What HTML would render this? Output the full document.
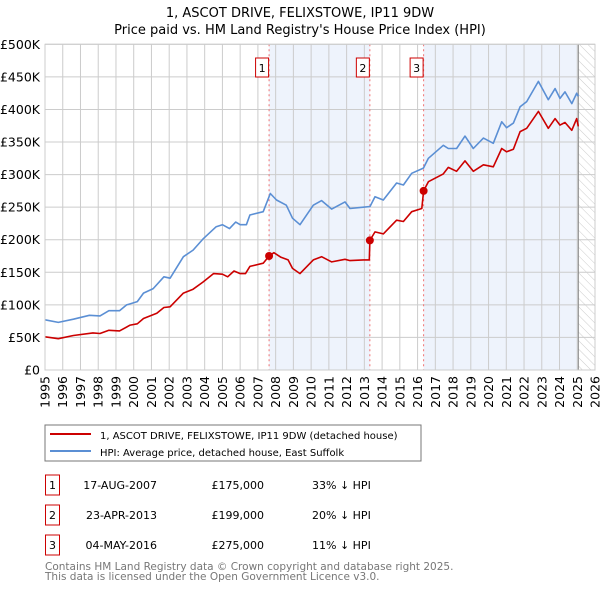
<!DOCTYPE html>
<html><head><meta charset="utf-8"><style>
body{margin:0;background:#fff;font-family:"DejaVu Sans","Liberation Sans",sans-serif}
svg text{font-family:"DejaVu Sans","Liberation Sans",sans-serif}
</style></head><body>
<svg id="c" width="600" height="590" xmlns="http://www.w3.org/2000/svg">
<defs><pattern id="hatch" width="6" height="6" patternUnits="userSpaceOnUse" patternTransform="rotate(-45)"><line x1="0" y1="0" x2="0" y2="6" stroke="#ccc" stroke-width="1"/></pattern></defs>
<text x="300" y="17" text-anchor="middle" font-size="13">1, ASCOT DRIVE, FELIXSTOWE, IP11 9DW</text>
<text x="300" y="34" text-anchor="middle" font-size="13">Price paid vs. HM Land Registry's House Price Index (HPI)</text>
<g id="plot"></g>
<rect x="45" y="425" width="376" height="36" fill="#fff" stroke="#777"/>
<line x1="50" y1="434" x2="91" y2="434" stroke="#cc0000" stroke-width="2"/>
<text x="100" y="439" font-size="10">1, ASCOT DRIVE, FELIXSTOWE, IP11 9DW (detached house)</text>
<line x1="50" y1="451" x2="91" y2="451" stroke="#5b8fd4" stroke-width="2"/>
<text x="100" y="456" font-size="10">HPI: Average price, detached house, East Suffolk</text>
<g id="table"></g>
<text x="45" y="570" font-size="10.5" fill="#777">Contains HM Land Registry data © Crown copyright and database right 2025.</text>
<text x="45" y="580" font-size="10.5" fill="#777">This data is licensed under the Open Government Licence v3.0.</text>
</svg>
<script>
const hpiYears=[1995.0,1995.75,1996.6,1997.5,1998.1,1998.6,1999.2,1999.6,2000.2,2000.55,2001.1,2001.7,2002.05,2002.8,2003.35,2003.9,2004.65,2005.0,2005.4,2005.75,2006.0,2006.35,2006.55,2007.3,2007.7,2008.05,2008.6,2008.95,2009.37,2010.12,2010.59,2011.16,2011.91,2012.19,2012.94,2013.32,2013.6,2014.07,2014.82,2015.2,2015.67,2016.33,2016.61,2017.45,2017.73,2018.2,2018.67,2019.14,2019.71,2020.27,2020.74,2021.02,2021.4,2021.78,2022.15,2022.81,2023.37,2023.75,2024.03,2024.31,2024.69,2024.97,2025.06];
const hpiValues=[77,73,78,84,83,91,91,100,105,118,125,143,141,174,184,201,220,223,217,227,223,223,238,243,271,261,253,233,223,253,260,247,258,248,250,251,266,261,287,284,302,310,325,345,340,340,359,340,356,348,381,372,379,404,412,443,415,432,417,427,409,425,420];
const propYears=[1995.0,1995.75,1996.6,1997.7,1998.1,1998.6,1999.2,1999.8,2000.2,2000.55,2001.3,2001.7,2002.05,2002.8,2003.35,2003.9,2004.5,2005.0,2005.3,2005.65,2006.0,2006.3,2006.55,2007.3,2007.63,2007.9,2008.3,2008.7,2008.95,2009.37,2010.12,2010.59,2011.16,2011.91,2012.19,2012.94,2013.28,2013.31,2013.6,2014.07,2014.82,2015.2,2015.67,2016.24,2016.34,2016.61,2017.45,2017.73,2018.2,2018.67,2019.14,2019.71,2020.27,2020.74,2021.02,2021.4,2021.78,2022.15,2022.81,2023.37,2023.75,2024.03,2024.31,2024.69,2024.97,2025.06];
const propValues=[51,48,53,57,56,61,60,69,71,79,87,96,97,118,124,135,148,147,143,152,148,148,159,164,175,180,173,169,156,148,169,174,166,170,168,169,169,199,212,209,230,228,243,248,275,289,301,311,305,321,305,315,312,340,335,339,366,371,397,371,386,376,380,368,386,374];
const saleYears=[2007.63,2013.31,2016.34];
const salePrices=[175000,199000,275000];
const saleDates=["17-AUG-2007","23-APR-2013","04-MAY-2016"];
const salePct=["33% ↓ HPI","20% ↓ HPI","11% ↓ HPI"];
const yTicks=[0,50,100,150,200,250,300,350,400,450,500];
const yLabels=["£0","£50K","£100K","£150K","£200K","£250K","£300K","£350K","£400K","£450K","£500K"];
const xTicks=[1995,1996,1997,1998,1999,2000,2001,2002,2003,2004,2005,2006,2007,2008,2009,2010,2011,2012,2013,2014,2015,2016,2017,2018,2019,2020,2021,2022,2023,2024,2025,2026];
const X0=45,X1=595,Y0=370,Y1=44.3;
const xs=y=>X0+(y-1995)/31*(X1-X0);
const ys=v=>Y0-v/500*(Y0-Y1);
const NS="http://www.w3.org/2000/svg";
const plot=document.getElementById('plot');
function mk(tag,attrs,parent){const e=document.createElementNS(NS,tag);for(const k in attrs)e.setAttribute(k,attrs[k]);(parent||plot).appendChild(e);return e;}
// shading
let r=mk('rect',{x:xs(saleYears[0]),y:Y1,width:xs(saleYears[1])-xs(saleYears[0]),height:Y0-Y1,fill:'#eef3fc'});


r=mk('rect',{x:xs(saleYears[2]),y:Y1,width:xs(2025.06)-xs(saleYears[2]),height:Y0-Y1,fill:'#eef3fc'});


r=mk('rect',{x:xs(2025.06),y:Y1,width:X1-xs(2025.06),height:Y0-Y1,fill:'url(#hatch)'});


// grid
yTicks.forEach((t,i)=>{
 const l=mk('line',{x1:X0,x2:X1,y1:ys(t),y2:ys(t),stroke:'#ccc'});
 
 
 const tx=mk('text',{x:40,y:ys(t)+4.5,'text-anchor':'end','font-size':'12.5'});tx.textContent=yLabels[i];
 
 
});
xTicks.forEach(t=>{
 const l=mk('line',{x1:xs(t),x2:xs(t),y1:Y1,y2:Y0,stroke:'#ccc'});
 
 
 const tx=mk('text',{transform:`translate(${xs(t)+4.5},${Y0+6}) rotate(-90)`,'text-anchor':'end','font-size':'12.5'});tx.textContent=t;
 
 
});
const vl=mk('line',{x1:xs(2025.06),x2:xs(2025.06),y1:Y1,y2:Y0,stroke:'#888'});


// sale markers
saleYears.forEach((s,i)=>{
 const l=mk('line',{x1:xs(s),x2:xs(s),y1:Y1,y2:Y0,stroke:'#f07070','stroke-dasharray':'2,3'});
 
 
 const b=mk('rect',{x:xs(s)-13.5,y:58,width:13,height:19,fill:'#fff',stroke:'#cc0000'});
 
 
 const tx=mk('text',{x:xs(s)-7,y:72,'text-anchor':'middle','font-size':'11'});tx.textContent=i+1;
 
 
});
function line(xa,va,col,name){
 const p=mk('polyline',{points:xa.map((y,i)=>xs(y).toFixed(1)+','+ys(va[i]).toFixed(1)).join(' '),fill:'none',stroke:col,'stroke-width':1.6,'stroke-linejoin':'round'});
 
 
}
line(hpiYears,hpiValues,'#5b8fd4','hpi-line');
line(propYears,propValues,'#cc0000','property-line');
saleYears.forEach((s,i)=>{
 const c=mk('circle',{cx:xs(s),cy:ys(salePrices[i]/1000),r:4,fill:'#cc0000'});
 
 
});
const border=mk('rect',{x:X0,y:Y1,width:X1-X0,height:Y0-Y1,fill:'none',stroke:'#ccc'});


// table
const tb=document.getElementById('table');
saleYears.forEach((s,i)=>{
 const y=475+i*30;
 const b=mk('rect',{x:45.5,y:y,width:14,height:20,fill:'none',stroke:'#cc0000'},tb);
 
 
 const t1=mk('text',{x:52.5,y:y+14,'text-anchor':'middle','font-size':'11'},tb);t1.textContent=i+1;
 
 
 const t2=mk('text',{x:157,y:y+14,'text-anchor':'end','font-size':'11'},tb);t2.textContent=saleDates[i];
 
 
 const t3=mk('text',{x:264,y:y+14,'text-anchor':'end','font-size':'11'},tb);t3.textContent='£'+salePrices[i].toLocaleString('en-GB');
 
 
 const t4=mk('text',{x:312,y:y+14,'font-size':'11'},tb);t4.textContent=salePct[i];
 
 
});
</script>
</body></html>
